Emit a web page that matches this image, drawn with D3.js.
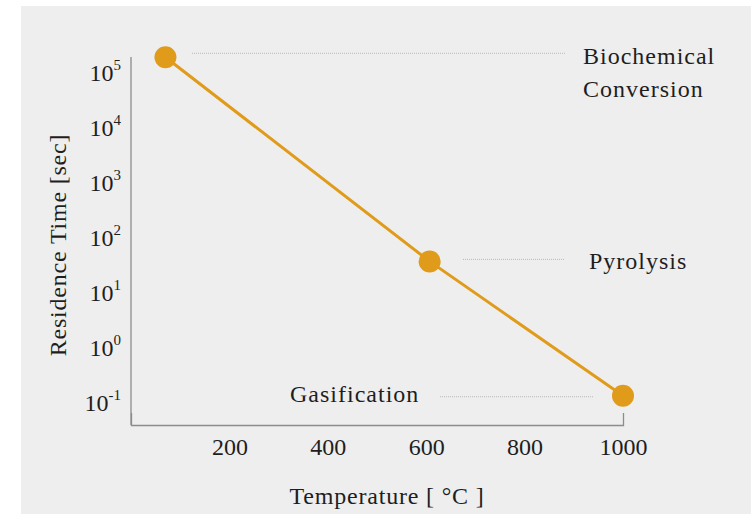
<!DOCTYPE html>
<html>
<head>
<meta charset="utf-8">
<script src="https://cdn.jsdelivr.net/npm/d3@7"></script>
<style>
  html, body { margin: 0; padding: 0; background: #ffffff; }
  svg { display: block; }
  svg text { font-family: "Liberation Serif", Tinos, "Times New Roman", Times, "DejaVu Serif", serif !important; fill: #1e1e1e; }
</style>
</head>
<body>
<svg id="chart" width="754" height="514"></svg>
<script>
// ---- data ----
const processes = ["Biochemical Conversion", "Pyrolysis", "Gasification"];
const temperatures = [70, 607, 1000];          // °C
const residenceTimes = [1.85e5, 36, 0.13];     // seconds
const xTickValues = [200, 400, 600, 800, 1000];
const yTickExponents = [-1, 0, 1, 2, 3, 4, 5];
const xTitle = "Temperature [ °C ]";
const yTitle = "Residence Time [sec]";

// ---- layout ----
const svg = d3.select("#chart");
const orange = "#E09B1B";
const axisColor = "#8c8c8c";
const FONT = '"Liberation Serif", Tinos, "Times New Roman", Times, "DejaVu Serif", serif';

svg.append("rect").attr("x", 21).attr("y", 6).attr("width", 730).attr("height", 508).attr("fill", "#eeeeee");

const x = d3.scaleLinear().domain([0, 1000]).range([131, 623]);
const y = d3.scaleLog().domain([1e-1, 1e5]).range([402, 72]);

const plotTop = 57, plotBottom = 425;

// y axis line
svg.append("line").attr("x1", 131).attr("x2", 131).attr("y1", plotTop).attr("y2", plotBottom)
  .attr("stroke", axisColor).attr("stroke-width", 1.3);

// x axis
const xAxis = svg.append("g").attr("transform", `translate(0,${plotBottom})`)
  .call(d3.axisBottom(x).tickValues(xTickValues).tickSizeInner(0).tickSizeOuter(-12).tickPadding(13).tickFormat(d3.format("d")));
xAxis.attr("font-family", FONT);
xAxis.select(".domain").attr("stroke", axisColor).attr("stroke-width", 1.3);
xAxis.selectAll("text").attr("font-size", 24).attr("fill", "#1e1e1e");

// y axis
const yAxis = svg.append("g").attr("transform", "translate(131,0)")
  .call(d3.axisLeft(y).tickValues(yTickExponents.map(e => Math.pow(10, e))).tickSize(0).tickPadding(10).tickFormat(""));
yAxis.attr("font-family", FONT);
yAxis.select(".domain").remove();
yAxis.selectAll(".tick text").each(function(d) {
  const t = d3.select(this);
  const e = Math.round(Math.log10(d));
  t.text(null).attr("font-size", 24).attr("fill", "#1e1e1e").attr("dy", "0.35em");
  t.append("tspan").text("10");
  t.append("tspan").attr("font-size", 15).attr("dy", "-0.72em").text(String(e));
});

// annotation dotted leaders
const leaders = [
  { x1: 192, x2: 565, yv: residenceTimes[0], dy: -4 },
  { x1: 463, x2: 565, yv: residenceTimes[1], dy: -2 },
  { x1: 440, x2: 593, yv: residenceTimes[2], dy: 1 }
];
leaders.forEach(l => {
  svg.append("line").attr("x1", l.x1).attr("x2", l.x2)
    .attr("y1", y(l.yv) + l.dy).attr("y2", y(l.yv) + l.dy)
    .attr("stroke", "#b9b9b9").attr("stroke-width", 1).attr("stroke-dasharray", "1,1");
});

// line
const pts = temperatures.map((t, i) => [x(t), y(residenceTimes[i])]);
svg.append("path").attr("d", d3.line()(pts)).attr("fill", "none").attr("stroke", orange).attr("stroke-width", 3);
svg.selectAll("circle.pt").data(pts).join("circle").attr("class", "pt")
  .attr("cx", d => d[0]).attr("cy", d => d[1]).attr("r", 11).attr("fill", orange);

// labels
const lab = svg.append("g").attr("font-size", 24).attr("font-family", FONT).attr("letter-spacing", "1px");
const bio = lab.append("text").attr("x", 583).attr("y", 64);
bio.append("tspan").attr("x", 583).text(processes[0].split(" ")[0]);
bio.append("tspan").attr("x", 583).attr("dy", 33).text(processes[0].split(" ")[1]);
lab.append("text").attr("x", 589).attr("y", y(residenceTimes[1]) + 8).text(processes[1]);
lab.append("text").attr("x", 290).attr("y", y(residenceTimes[2]) + 6).text(processes[2]);

// axis titles
svg.append("text").attr("x", 387).attr("y", 504).attr("text-anchor", "middle").attr("font-family", FONT)
  .attr("font-size", 24).attr("letter-spacing", "0.8px").text(xTitle);
svg.append("text").attr("transform", "translate(66,245) rotate(-90)").attr("text-anchor", "middle").attr("font-family", FONT)
  .attr("font-size", 24).attr("letter-spacing", "0.8px").text(yTitle);
</script>
</body>
</html>
